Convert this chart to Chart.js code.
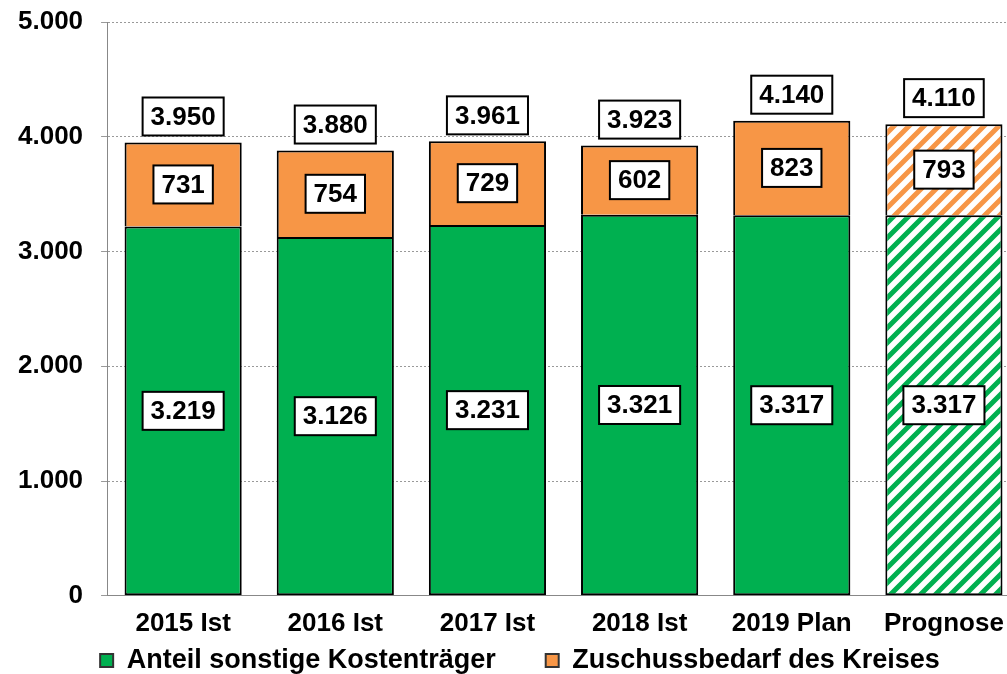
<!DOCTYPE html>
<html>
<head>
<meta charset="utf-8">
<script src="https://cdn.jsdelivr.net/npm/chart.js@4.4.1/dist/chart.umd.min.js"></script>
<style>
  html, body { margin: 0; padding: 0; background: #fff; overflow: hidden; }
  #wrap { position: absolute; left: 0; top: 0; width: 1020px; height: 674px; }
</style>
</head>
<body>
<div id="wrap"><canvas id="chart"></canvas></div>
<script>
// Chart data
const categories = ['2015 Ist', '2016 Ist', '2017 Ist', '2018 Ist', '2019 Plan', 'Prognose'];
const sonstige = [3219, 3126, 3231, 3321, 3317, 3317];
const zuschuss = [731, 754, 729, 602, 823, 793];
const totals = [3950, 3880, 3961, 3923, 4140, 4110];
const yTicks = [0, 1000, 2000, 3000, 4000, 5000];

const GREEN = '#00B050';
const ORANGE = '#F79646';
const FONT = "'Liberation Sans', Arial, sans-serif";

// legend: keep the wide gap between items but not the tall box
const LEGEND_H = 31;
const LEGEND_DX = 10;
const LEGEND_DY = -46;

// diagonal stripes for the forecast bar
function makeHatch(color) {
    const s = 15;
    const c = document.createElement('canvas');
    c.width = s;
    c.height = s;
    const ctx = c.getContext('2d');
    ctx.fillStyle = '#fff';
    ctx.fillRect(0, 0, s, s);
    ctx.strokeStyle = color;
    ctx.lineWidth = 5;
    ctx.beginPath();
    ctx.moveTo(-2, 2); ctx.lineTo(2, -2);
    ctx.moveTo(0, s); ctx.lineTo(s, 0);
    ctx.moveTo(s - 2, s + 2); ctx.lineTo(s + 2, s - 2);
    ctx.stroke();
    return document.createElement('canvas').getContext('2d').createPattern(c, 'repeat');
}

const greenFill = sonstige.map((v, i) => i === categories.length - 1 ? makeHatch(GREEN) : GREEN);
const orangeFill = zuschuss.map((v, i) => i === categories.length - 1 ? makeHatch(ORANGE) : ORANGE);

function fmt(v) {
    return v.toLocaleString('de-DE');
}

function drawBox(ctx, text, cx, cy) {
    ctx.font = 'bold 26px ' + FONT;
    const w = ctx.measureText(text).width + 16;
    const h = 38;
    ctx.fillStyle = '#fff';
    ctx.fillRect(cx - w / 2, cy - h / 2, w, h);
    ctx.strokeStyle = '#000';
    ctx.lineWidth = 2;
    ctx.strokeRect(cx - w / 2, cy - h / 2, w, h);
    ctx.fillStyle = '#000';
    ctx.textAlign = 'center';
    ctx.textBaseline = 'middle';
    ctx.fillText(text, cx, cy + 1);
}

// value boxes inside segments and totals above bars
const boxLabels = {
    id: 'boxLabels',
    beforeLayout(chart) {
        const lg = chart.legend;
        if (lg && !lg._patched) {
            const fit = lg.fit;
            lg.fit = function() {
                fit.call(this);
                this.height = LEGEND_H;
            };
            const draw = lg._draw;
            lg._draw = function() {
                const c = this.ctx;
                c.save();
                c.translate(LEGEND_DX, LEGEND_DY);
                draw.call(this);
                c.restore();
            };
            lg.draw = function() {
                this._draw();
            };
            lg._patched = true;
        }
    },
    afterDatasetsDraw(chart) {
        const ctx = chart.ctx;
        ctx.save();
        chart.data.datasets.forEach((ds, di) => {
            chart.getDatasetMeta(di).data.forEach((bar, i) => {
                const p = bar.getProps(['x', 'y', 'base'], true);
                drawBox(ctx, fmt(ds.data[i]), p.x, (p.y + p.base) / 2);
            });
        });
        const top = chart.getDatasetMeta(1).data;
        top.forEach((bar, i) => {
            const p = bar.getProps(['x', 'y'], true);
            drawBox(ctx, fmt(totals[i]), p.x, p.y - 7 - 19);
        });
        ctx.restore();
    }
};

new Chart(document.getElementById('chart'), {
    type: 'bar',
    data: {
        labels: categories,
        datasets: [{
            label: 'Anteil sonstige Kostenträger',
            data: sonstige,
            backgroundColor: greenFill,
            borderColor: '#000',
            borderWidth: 2,
            borderSkipped: false
        }, {
            label: 'Zuschussbedarf des Kreises',
            data: zuschuss,
            backgroundColor: orangeFill,
            borderColor: '#000',
            borderWidth: 2
        }]
    },
    options: {
        responsive: true,
        maintainAspectRatio: false,
        animation: false,
        datasets: {
            bar: {
                barPercentage: 0.77,
                categoryPercentage: 1.0
            }
        },
        layout: {
            padding: 0
        },
        plugins: {
            legend: {
                position: 'bottom',
                labels: {
                    color: '#000',
                    font: { family: FONT, size: 27, weight: 'bold' },
                    boxWidth: 13,
                    boxHeight: 13,
                    padding: 50,
                    generateLabels(chart) {
                        return chart.data.datasets.map((ds, i) => ({
                            text: ds.label,
                            fillStyle: i === 0 ? GREEN : ORANGE,
                            strokeStyle: '#333',
                            lineWidth: 2,
                            datasetIndex: i
                        }));
                    }
                }
            },
            tooltip: { enabled: false }
        },
        scales: {
            x: {
                stacked: true,
                grid: { display: false },
                border: { color: '#888', width: 1 },
                ticks: {
                    color: '#000',
                    padding: 4,
                    font: { family: FONT, size: 26, weight: 'bold' }
                }
            },
            y: {
                stacked: true,
                min: 0,
                max: 5000,
                afterBuildTicks(scale) {
                    scale.ticks = yTicks.map(v => ({ value: v }));
                },
                afterFit(scale) {
                    scale.paddingTop = 22;
                },
                grid: {
                    color: '#999',
                    tickLength: 6,
                    lineWidth: 1
                },
                border: { color: '#888', width: 1, dash: [2, 2] },
                ticks: {
                    color: '#000',
                    padding: 18,
                    font: { family: FONT, size: 26, weight: 'bold' },
                    callback: v => fmt(v)
                }
            }
        }
    },
    plugins: [boxLabels]
});
</script>
</body>
</html>
